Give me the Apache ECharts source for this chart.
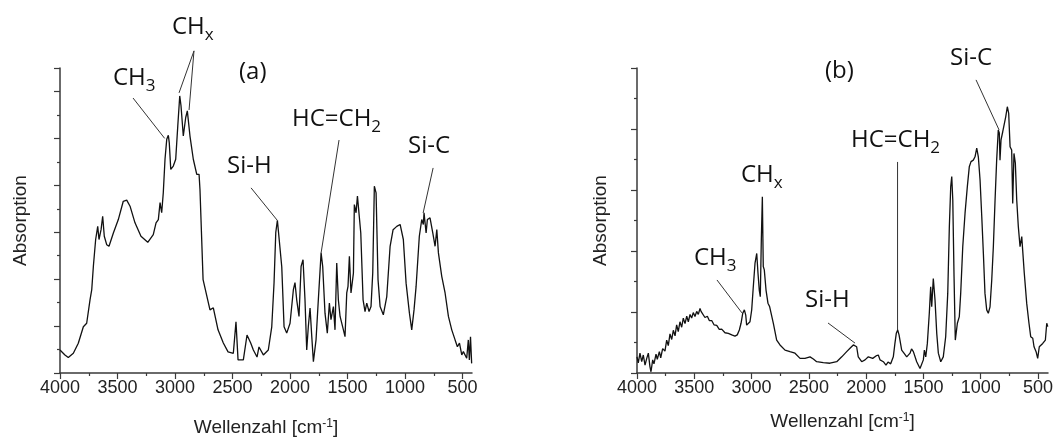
<!DOCTYPE html>
<html>
<head>
<meta charset="utf-8">
<script src="https://cdn.jsdelivr.net/npm/echarts@6/dist/echarts.min.js"></script>
<style>
html,body{margin:0;padding:0;background:#fff}
#chart{width:1054px;height:437px}
</style>
</head>
<body>
<div id="chart"></div>
<script>
// spectrum (a): wavenumber [cm-1] and absorption (arb. units)
var waveA=[4000,3957,3928,3884,3841,3797,3768,3739,3724,3710,
3690,3672,3661,3643,3629,3615,3594,3574,3536,3493,
3450,3420,3391,3348,3296,3237,3189,3165,3145,3130,
3116,3102,3087,3072,3058,3050,3037,3015,2994,2976,
2959,2948,2928,2907,2893,2870,2841,2811,2791,2783,
2756,2696,2667,2626,2580,2539,2493,2470,2452,2406,
2374,2342,2319,2287,2270,2232,2189,2159,2139,2124,
2110,2093,2072,2052,2029,2000,1971,1957,1942,1922,
1904,1887,1870,1855,1841,1826,1811,1797,1774,1754,
1730,1716,1696,1676,1658,1644,1623,1609,1594,1580,
1565,1536,1522,1507,1496,1484,1470,1449,1441,1426,
1414,1397,1385,1365,1348,1333,1313,1296,1281,1267,
1252,1235,1217,1189,1159,1130,1104,1072,1043,1015,
991,962,942,922,904,876,855,841,835,817,
806,783,759,739,724,710,681,652,623,594,
565,545,527,507,493,464,450,441,431,421];
var absA=[0.98,0.77,0.66,0.84,1.27,1.97,2.12,3.12,3.55,4.54,
5.69,6.25,5.69,6.11,6.68,5.83,5.47,5.40,5.97,6.54,
7.32,7.37,7.11,6.40,5.83,5.57,5.90,6.40,6.54,7.26,
6.83,7.68,9.11,9.96,10.13,9.82,8.68,8.82,9.11,10.53,
11.81,11.39,10.10,10.89,11.17,10.10,9.11,8.47,8.47,7.82,
3.98,2.69,2.78,1.84,1.28,0.90,0.84,2.18,0.56,0.56,
1.62,1.28,0.98,0.68,1.11,0.77,0.98,1.97,3.85,5.99,
6.51,6.47,4.53,1.97,1.70,2.12,3.55,3.85,3.12,2.41,
4.54,4.83,3.12,0.98,1.98,2.77,1.55,0.48,1.41,3.12,
5.12,4.54,2.55,1.70,2.98,2.27,2.83,1.84,4.69,3.12,
2.41,1.84,1.55,3.41,3.69,4.97,3.41,4.26,7.18,6.83,
7.54,7.61,5.97,3.12,2.62,2.98,2.62,2.83,4.26,7.96,
7.68,3.98,2.83,2.48,3.26,5.40,6.11,6.25,6.33,5.69,
3.83,2.55,1.84,2.69,3.69,5.83,6.54,6.33,6.83,5.97,
6.54,6.61,5.97,5.40,6.11,5.12,4.12,3.41,2.41,1.84,
1.41,1.12,1.27,0.77,0.91,0.63,1.41,0.56,1.54,0.41];

// spectrum (b)
var waveB=[4000,3989,3974,3959,3945,3930,3915,3901,3887,3878,
3863,3852,3834,3823,3805,3793,3776,3756,3741,3727,
3712,3697,3683,3668,3654,3640,3625,3610,3596,3581,
3566,3552,3537,3523,3509,3494,3479,3465,3450,3441,
3427,3407,3386,3369,3348,3328,3304,3282,3261,3232,
3203,3173,3145,3125,3107,3092,3077,3063,3051,3043,
3029,3014,2999,2985,2970,2955,2944,2933,2924,2915,
2906,2898,2889,2874,2857,2842,2830,2810,2781,2752,
2708,2665,2621,2577,2534,2490,2461,2432,2374,2316,
2257,2213,2170,2141,2112,2097,2083,2069,2039,2010,
1981,1966,1943,1914,1894,1879,1850,1827,1809,1786,
1763,1749,1737,1725,1713,1705,1690,1670,1646,1617,
1604,1588,1559,1530,1515,1501,1492,1480,1466,1449,
1437,1428,1414,1399,1384,1370,1349,1327,1306,1288,
1274,1262,1253,1244,1233,1222,1204,1187,1175,1157,
1137,1117,1100,1085,1065,1050,1035,1021,1006,991,
977,963,948,934,919,904,890,875,861,847,
838,832,823,808,797,782,768,756,744,730,
721,710,698,686,672,657,642,634,620,599,
579,564,546,535,517,503,489,474,459,447,
436,424,415];
var absB=[0.53,0.33,0.65,0.37,0.59,0.26,0.48,0.65,0.21,0.04,
0.43,0.30,0.62,0.45,0.70,0.50,0.80,0.72,1.08,0.90,
1.28,1.10,1.40,1.22,1.58,1.36,1.68,1.50,1.80,1.62,
1.86,1.68,1.92,1.80,1.98,1.85,2.02,1.92,2.12,2.02,
1.96,1.82,1.86,1.72,1.72,1.58,1.56,1.43,1.44,1.32,
1.30,1.25,1.21,1.25,1.41,1.63,1.96,2.07,1.90,1.57,
1.57,1.68,2.07,2.83,3.60,3.92,3.27,2.72,2.50,4.36,
5.78,3.49,3.38,2.72,2.29,2.17,2.20,1.63,1.08,0.92,
0.75,0.70,0.65,0.48,0.48,0.53,0.46,0.37,0.34,0.32,
0.37,0.53,0.70,0.81,0.92,0.97,0.86,0.53,0.37,0.43,
0.53,0.59,0.48,0.56,0.59,0.43,0.37,0.26,0.36,0.30,
0.53,0.97,1.30,1.41,1.25,1.08,0.75,0.65,0.53,0.65,
0.79,0.70,0.37,0.15,0.10,0.43,0.75,0.53,0.97,1.96,
2.83,2.17,3.10,2.39,1.30,0.65,0.37,0.53,1.19,2.61,
4.80,6.11,6.44,5.67,3.16,1.08,1.63,1.85,2.61,4.14,
5.24,6.11,6.76,6.93,6.98,7.09,7.37,7.09,6.33,5.12,
3.92,2.61,2.07,1.96,2.17,3.05,4.14,5.67,6.98,7.97,
7.87,6.98,7.64,7.91,7.97,8.40,8.73,8.51,7.42,7.31,
5.56,7.20,6.88,5.67,4.80,4.14,4.47,4.03,3.27,2.29,
1.63,1.19,1.14,0.86,0.70,0.48,0.86,0.92,0.97,0.92,
1.08,1.63,1.52];

var xTicks=[4000,3500,3000,2500,2000,1500,1000,500];
var xMinorTicks=[3750,3250,2750,2250,1750,1250,750];

// leader lines [from, to] in data units
var leadersA=[
  [[3365,11.72],[3090,10.0]],
  [[2835,13.73],[2965,11.94]],
  [[2835,13.73],[2878,11.21]],
  [[2339,7.89],[2113,6.52]],
  [[1574,9.93],[1730,5.12]],
  [[756,8.74],[843,6.82]]
];
var leadersB=[
  [[1041,9.61],[840,7.97]],
  [[1726,6.92],[1726,1.41]],
  [[3302,3.05],[3084,1.97]],
  [[2333,1.64],[2097,0.98]]
];

var axisColor='#3a3a3a';
var tickFont='Liberation Sans';

function zip(xs,ys){
  var out=[];
  for(var i=0;i<xs.length;i++) out.push([xs[i],ys[i]]);
  return out;
}

function xAxes(grid,min,gap){
  return [{
    gridIndex:grid,type:'value',inverse:true,min:min,max:4000,position:'bottom',
    axisLine:{onZero:false,lineStyle:{color:axisColor,width:1.5}},
    axisTick:{customValues:xTicks,length:6,lineStyle:{color:axisColor,width:1.2}},
    axisLabel:{customValues:xTicks,fontSize:18,fontFamily:tickFont,color:'#222',margin:6,
      hideOverlap:false,formatter:function(v){return String(v);}},
    splitLine:{show:false},
    name:'Wellenzahl [cm{sup|-1}]',nameLocation:'middle',nameGap:gap,
    nameTextStyle:{fontSize:19,fontFamily:tickFont,color:'#222',lineHeight:20,
      rich:{sup:{fontSize:12,fontFamily:tickFont,color:'#222',lineHeight:12,verticalAlign:'top'}}}
  },{
    gridIndex:grid,type:'value',inverse:true,min:min,max:4000,position:'bottom',
    axisLine:{show:false},
    axisTick:{customValues:xMinorTicks,length:3,lineStyle:{color:axisColor,width:1.2}},
    axisLabel:{show:false},splitLine:{show:false}
  }];
}

function yAxis(grid,max,gap){
  return {
    gridIndex:grid,type:'value',min:0,max:max,interval:2,
    axisLine:{show:true,lineStyle:{color:axisColor,width:1.5}},
    axisTick:{show:true,length:6,lineStyle:{color:axisColor,width:1.2}},
    minorTick:{show:true,splitNumber:2,length:3,lineStyle:{color:axisColor,width:1.2}},
    axisLabel:{show:false},splitLine:{show:false},
    name:'Absorption',nameLocation:'middle',nameGap:gap,nameRotate:90,
    nameTextStyle:{fontSize:19,fontFamily:tickFont,color:'#222'}
  };
}

function spectrum(xi,yi,xs,ys){
  return {
    type:'line',xAxisIndex:xi,yAxisIndex:yi,data:zip(xs,ys),
    showSymbol:false,symbol:'none',clip:false,
    lineStyle:{color:'#111',width:1.3}
  };
}

var labelRich={
  s:{fontSize:17,fontFamily:'Open Sans',fill:'#111',lineHeight:17,verticalAlign:'bottom'}
};
function label(x,y,text){
  return {type:'text',x:x,y:y,silent:true,
    style:{text:text,fontSize:24,fontFamily:'Open Sans',fill:'#111',lineHeight:33,
      align:'left',verticalAlign:'top',rich:labelRich}};
}

var chart=echarts.init(document.getElementById('chart'),null,{renderer:'canvas'});
chart.setOption({
  animation:false,
  backgroundColor:'#fff',
  grid:[
    {left:60,top:68,width:412,height:305,outerBoundsMode:'none'},
    {left:637,top:68,width:411,height:305,outerBoundsMode:'none'}
  ],
  xAxis:xAxes(0,418,45).concat(xAxes(1,413,39)),
  yAxis:[yAxis(0,13,30),yAxis(1,10,27)],
  series:[
    spectrum(0,0,waveA,absA),
    spectrum(2,1,waveB,absB)
  ]
});

// leader lines go through the axes' own scales, even where they leave the plot area
function leaderLines(leaders,finder){
  return leaders.map(function(p){
    var a=chart.convertToPixel(finder,p[0]);
    var b=chart.convertToPixel(finder,p[1]);
    return {type:'line',silent:true,
      shape:{x1:a[0],y1:a[1],x2:b[0],y2:b[1]},
      style:{stroke:'#333',lineWidth:1}};
  });
}

chart.setOption({
  graphic:[
    label(113,62,'CH{s|3}'),
    label(172,11,'CH{s|x}'),
    label(239,56,'(a)'),
    label(227,150,'Si-H'),
    label(292,103,'HC=CH{s|2}'),
    label(408,130,'Si-C'),
    label(825,55,'(b)'),
    label(950,42,'Si-C'),
    label(851,124,'HC=CH{s|2}'),
    label(741,159,'CH{s|x}'),
    label(694,242,'CH{s|3}'),
    label(805,284,'Si-H')
  ].concat(
    leaderLines(leadersA,{xAxisIndex:0,yAxisIndex:0}),
    leaderLines(leadersB,{xAxisIndex:2,yAxisIndex:1})
  )
});
</script>
</body>
</html>
